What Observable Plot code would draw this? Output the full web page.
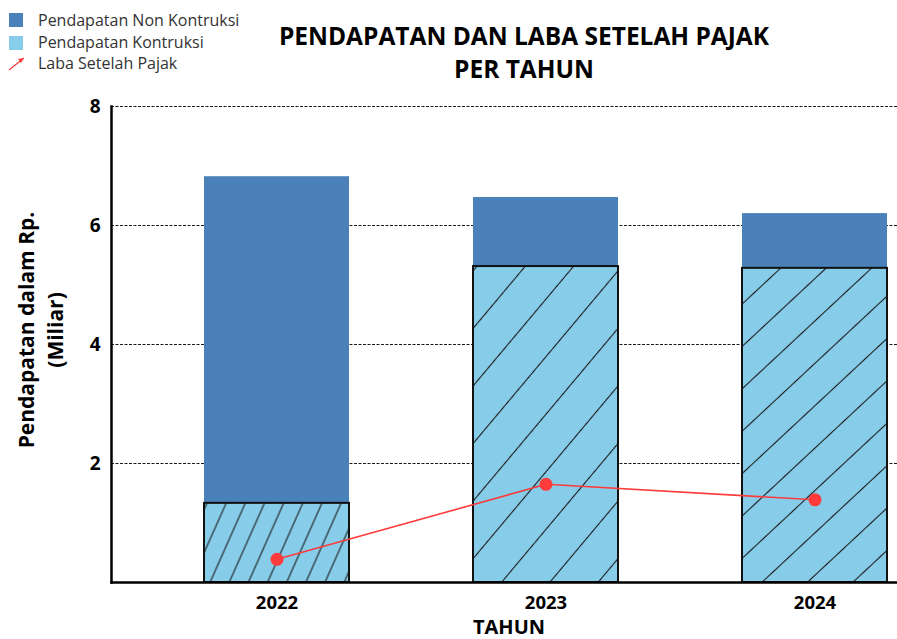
<!DOCTYPE html>
<html>
<head>
<meta charset="utf-8">
<script src="https://cdn.jsdelivr.net/npm/d3@7"></script>
<script src="https://cdn.jsdelivr.net/npm/@observablehq/plot@0.6"></script>
<style>
  html, body { margin: 0; padding: 0; background: #fff; }
  #chart { position: relative; width: 897px; height: 639px; }
  svg text { font-family: "Open Sans", sans-serif; }
</style>
</head>
<body>
<div id="chart"></div>
<script>
const years = ["2022", "2023", "2024"];
const pendapatanTotal = [6.82, 6.47, 6.20];       // top of stacked bar (Non Kontruksi + Kontruksi)
const pendapatanKontruksi = [1.33, 5.31, 5.28];
const labaSetelahPajak = [0.39, 1.65, 1.39];
const yTicks = [2, 4, 6, 8];
const legendLabels = ["Pendapatan Non Kontruksi", "Pendapatan Kontruksi", "Laba Setelah Pajak"];
const titleLines = ["PENDAPATAN DAN LABA SETELAH PAJAK", "PER TAHUN"];
const yLabelLines = ["Pendapatan dalam Rp.", "(Miliar)"];
const xLabel = "TAHUN";

const colNon = "#4A81B8";
const colKon = "#87CDEA";
const colLaba = "#FF3B3B";

const data = years.map((y, i) => ({
  year: y,
  total: pendapatanTotal[i],
  kon: pendapatanKontruksi[i],
  laba: labaSetelahPajak[i]
}));

const hatch = {"2022": {rot: 24, gap: 17.5}, "2023": {rot: 40, gap: 37}, "2024": {rot: 47, gap: 31}};

const marks = [
  Plot.ruleY(yTicks, {stroke: "#000", strokeWidth: 0.9, strokeDasharray: "3,1.5"}),
  Plot.barY(data, {x: "year", y1: "kon", y2: "total", fill: colNon}),
];
for (const yr of years) {
  marks.push(Plot.barY(data.filter(d => d.year === yr), {
    x: "year", y1: 0, y2: "kon", fill: `url(#hatch${yr})`, stroke: "#111", strokeWidth: 2
  }));
}
marks.push(
  Plot.frame({anchor: "left", stroke: "#000", strokeWidth: 2.5}),
  Plot.frame({anchor: "bottom", stroke: "#000", strokeWidth: 2.5}),
  Plot.line(data, {x: "year", y: "laba", stroke: colLaba, strokeWidth: 1.6}),
  Plot.dot(data, {x: "year", y: "laba", r: 6.5, fill: colLaba, stroke: "none"}),
  Plot.axisY({ticks: yTicks, tickSize: 0, tickPadding: 11, fontSize: 19, fontWeight: "bold", label: null}),
  Plot.axisX({tickSize: 0, tickPadding: 13, fontSize: 18.5, fontWeight: "bold", label: null})
);

const plot = Plot.plot({
  width: 897,
  height: 639,
  marginLeft: 111,
  marginRight: 0,
  marginTop: 106,
  marginBottom: 57,
  style: {fontFamily: "Open Sans, sans-serif", color: "#000", background: "#fff", overflow: "hidden"},
  x: {domain: years, range: [111, 979], paddingInner: 0.462, paddingOuter: 0.341, axis: null},
  y: {domain: [0, 8], axis: null},
  marks
});

const svg = d3.select(plot);
const defs = svg.insert("defs", ":first-child");
for (const yr of years) {
  const h = hatch[yr];
  const p = defs.append("pattern")
    .attr("id", `hatch${yr}`)
    .attr("patternUnits", "userSpaceOnUse")
    .attr("width", h.gap).attr("height", h.gap)
    .attr("patternTransform", `rotate(${h.rot})`);
  p.append("rect").attr("width", h.gap).attr("height", h.gap).attr("fill", colKon);
  p.append("line").attr("x1", h.gap / 2).attr("x2", h.gap / 2).attr("y1", -1).attr("y2", h.gap + 1)
    .attr("stroke", "#1a1a1a").attr("stroke-width", 1.1);
}

// Title
const title = svg.append("g").attr("font-weight", "bold").attr("font-size", 24.5).attr("text-anchor", "middle").attr("fill", "#000");
titleLines.forEach((t, i) => title.append("text").attr("x", 524).attr("y", 45 + i * 33).text(t));

// Legend
const leg = svg.append("g").attr("font-size", 16).attr("fill", "#333").attr("text-anchor", "start");
leg.append("rect").attr("x", 9).attr("y", 13).attr("width", 14).attr("height", 14).attr("fill", colNon);
leg.append("rect").attr("x", 9).attr("y", 36).attr("width", 14).attr("height", 14).attr("fill", colKon);
leg.append("line").attr("x1", 9).attr("y1", 70).attr("x2", 24).attr("y2", 58).attr("stroke", colLaba).attr("stroke-width", 1.3);
leg.append("path").attr("d", "M24,58 L18,59 L21,63 Z").attr("fill", colLaba);
legendLabels.forEach((t, i) => leg.append("text").attr("x", 38).attr("y", 26 + i * 21.5).attr("text-anchor", "start").attr("fill", "#333").text(t));

// Y label
const yl = svg.append("g").attr("font-weight", "bold").attr("font-size", 21).attr("text-anchor", "middle").attr("fill", "#000")
  .attr("transform", "translate(0,330) rotate(-90)");
yLabelLines.forEach((t, i) => yl.append("text").attr("x", 0).attr("y", 34 + i * 29).text(t));

// X label
svg.append("text").attr("x", 509).attr("y", 634).attr("text-anchor", "middle")
  .attr("font-weight", "bold").attr("font-size", 20).attr("fill", "#000").text(xLabel);

document.getElementById("chart").appendChild(plot);
</script>
</body>
</html>
